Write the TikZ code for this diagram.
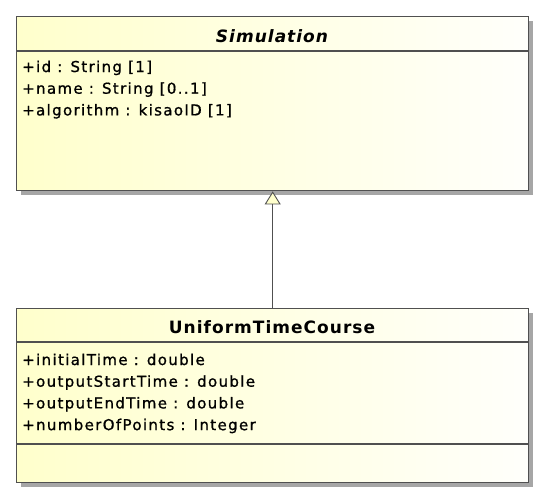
\documentclass[tikz,border=0pt]{standalone}
\usepackage{fontspec}
\setmainfont{DejaVu Sans}
\newfontfamily\umlfont[LetterSpace=9,FakeBold=1]{DejaVu Sans}
\newfontfamily\umltitlefont[LetterSpace=6]{DejaVu Sans}
\usepackage{tikz}
\usetikzlibrary{positioning,arrows.meta,shadows}

\definecolor{umlfill}{HTML}{FFFFCC}
\definecolor{umlline}{HTML}{505050}

\begin{document}
\begin{tikzpicture}
    [ x = 1pt, y = -1pt
    , classbox/.style =
      { draw = umlline, line width = 1.4pt, anchor = north west
      , minimum width = 512pt, inner sep = 0pt
      , left color = umlfill, right color = umlfill!8
      , drop shadow = {shadow xshift = 4pt, shadow yshift = -4pt, fill = black!35, opacity = 1}
      }
    , sep/.style =
      { draw = umlline, line width = 1.2pt }
    , title/.style =
      { anchor = base, font = \umltitlefont\fontsize{17}{19}\selectfont\bfseries }
    , attr/.style =
      { anchor = base west, inner sep = 0pt, font = \umlfont\fontsize{15}{17}\selectfont }
    , inherits/.style =
      { draw = umlline, line width = .9pt
      , -{Triangle[length = 13pt, width = 16pt, fill = umlfill, line width = .9pt]} }
    ]
    \useasboundingbox (0,0) rectangle (544,499);

    % Simulation
    \node [classbox, minimum height = 174pt] (sim) at (16,16) {};
    \draw [sep] (16,51) -- (528,51);
    \node [title, font = \umltitlefont\fontsize{17}{19}\selectfont\bfseries\itshape] (simname) at (272,42) {Simulation};
    \node [attr] (id) at (22,72) {+id : String [1]};
    \node [attr] (name) at (22,93.7) {+name : String [0..1]};
    \node [attr] (algo) at (22,115.4) {+algorithm : kisaoID [1]};

    % UniformTimeCourse
    \node [classbox, minimum height = 174pt] (utc) at (16,308) {};
    \draw [sep] (16,342) -- (528,342);
    \draw [sep] (16,444) -- (528,444);
    \node [title] (utcname) at (272,333) {UniformTimeCourse};
    \node [attr] (init) at (22,365) {+initialTime : double};
    \node [attr] (start) at (22,386.7) {+outputStartTime : double};
    \node [attr] (end) at (22,408.4) {+outputEndTime : double};
    \node [attr] (points) at (22,430.1) {+numberOfPoints : Integer};

    \draw [inherits] (utc.north) -- (sim.south);
  \end{tikzpicture}
\end{document}
